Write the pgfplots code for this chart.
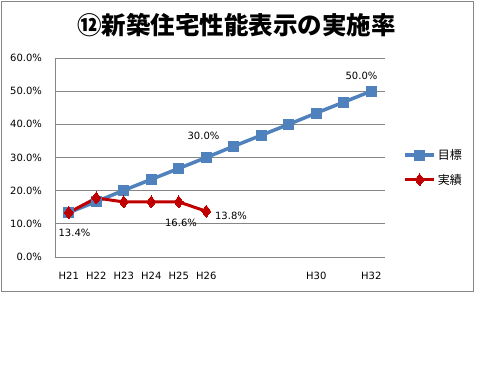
\documentclass[border=0pt]{standalone}
\usepackage{fontspec}
\setmainfont{DejaVu Sans}
\newfontfamily\cjk{Noto Sans CJK JP}
\usepackage{pgfplots}
\pgfplotsset{compat=1.18}
\definecolor{gridgray}{RGB}{134,134,134}
\definecolor{blueS}{RGB}{79,129,189}
\definecolor{redS}{RGB}{192,0,0}
\begin{document}
\begin{tikzpicture}[x=1pt,y=1pt]
\path[fill=white] (0,0) rectangle (500,375);
\draw[gridgray, line width=0.9pt] (1.5,374) rectangle (473,84);
\node[font={\cjk\bfseries\fontsize{24.5}{28}\selectfont}] at (236.7,349.5) {⑫新築住宅性能表示の実施率};
\begin{axis}[
  at={(55pt,118pt)}, anchor=south west,
  width=330pt, height=199pt, scale only axis,
  xmin=-0.5, xmax=11.5, ymin=0, ymax=60,
  ytick={0,10,...,60},
  xtick={0,1,2,3,4,5,9,11},
  xticklabels={H21,H22,H23,H24,H25,H26,H30,H32},
  /pgf/number format/assume math mode=true,
  yticklabel={\pgfmathprintnumber[fixed,fixed zerofill,precision=1]{\tick}\%},
  ticklabel style={font=\fontsize{10}{12}\selectfont},
  yticklabel style={xshift=-9.5pt},
  xticklabel style={yshift=-11.5pt},
  major tick length=0pt,
  axis lines=left,
  axis line style={-, gridgray, line width=0.9pt},
  ymajorgrids,
  grid style={gridgray, line width=0.9pt},
  clip=false,
  legend style={at={(1.055,0.45)}, anchor=west, draw=none, fill=none,
    font={\cjk\fontsize{12}{13}\selectfont}, row sep=9pt, inner sep=0pt,
    cells={anchor=west}},
  legend image code/.code={\draw[mark repeat=2,mark phase=2,#1] plot coordinates {(0pt,0pt) (14.5pt,0pt) (29pt,0pt)};},
]
\addplot[blueS, line width=3.5pt, mark=square*, mark size=5pt, mark options={solid, fill=blueS, draw=blueS, line width=0pt}]
 coordinates {(0,13.4) (1,16.7) (2,20.1) (3,23.4) (4,26.7) (5,30.0) (6,33.4) (7,36.7) (8,40.0) (9,43.4) (10,46.7) (11,50.0)};
\addlegendentry{目標}
\addplot[redS, line width=3pt, mark=diamond*, mark size=6pt, mark options={solid, fill=redS, draw=redS, line width=0pt}]
 coordinates {(0,13.4) (1,17.8) (2,16.6) (3,16.6) (4,16.6) (5,13.8)};
\addlegendentry{実績}
\node[font=\fontsize{10}{12}\selectfont] at (axis cs:0.209,7.36) {13.4\%};
\node[font=\fontsize{10}{12}\selectfont] at (axis cs:4.082,10.25) {16.6\%};
\node[font=\fontsize{10}{12}\selectfont] at (axis cs:5.9,12.36) {13.8\%};
\node[font=\fontsize{10}{12}\selectfont] at (axis cs:4.9,36.48) {30.0\%};
\node[font=\fontsize{10}{12}\selectfont] at (axis cs:10.645,54.56) {50.0\%};
\end{axis}
\end{tikzpicture}
\end{document}
